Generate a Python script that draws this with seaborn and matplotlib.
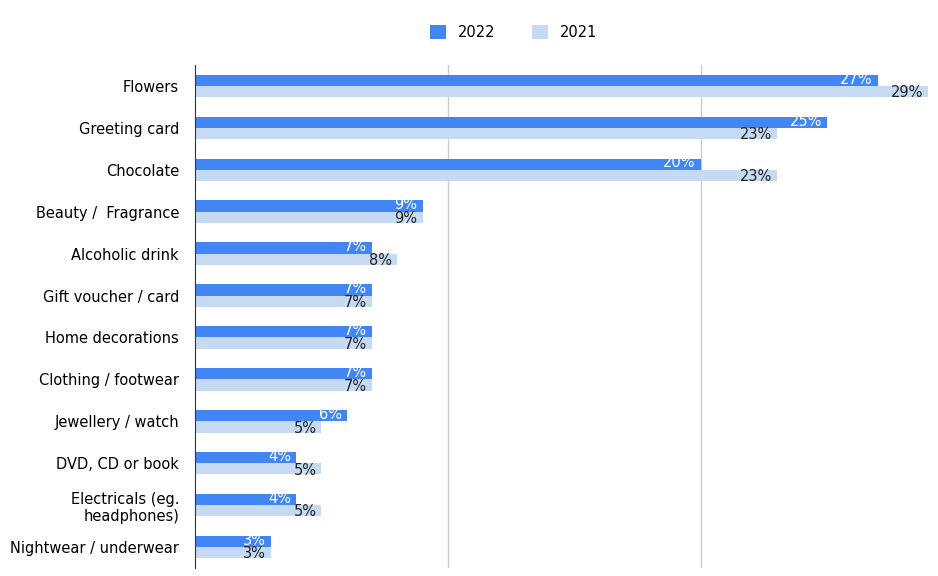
import matplotlib
matplotlib.use("Agg")
import matplotlib.pyplot as plt
import seaborn as sns
import pandas as pd

categories = ["Flowers", "Greeting card", "Chocolate", "Beauty /  Fragrance", "Alcoholic drink",
              "Gift voucher / card", "Home decorations", "Clothing / footwear", "Jewellery / watch",
              "DVD, CD or book", "Electricals (eg.\nheadphones)", "Nightwear / underwear"]
v2022 = [27, 25, 20, 9, 7, 7, 7, 7, 6, 4, 4, 3]
v2021 = [29, 23, 23, 9, 8, 7, 7, 7, 5, 5, 5, 3]
series = ["2022", "2021"]
colors = ["#4285f4", "#c6daf3"]

df = pd.DataFrame({"cat": categories * 2, "val": v2022 + v2021,
                   "year": ["2022"] * len(categories) + ["2021"] * len(categories)})

fig = plt.figure(figsize=(9.38, 5.76), dpi=100)
ax = fig.add_axes([0.2079, 0.014, 0.7900, 0.873])
sns.barplot(data=df, y="cat", x="val", hue="year", hue_order=series, palette=colors,
            orient="h", width=0.54, ax=ax, saturation=1, legend=True)
ax.set_xlim(0, 29.3)
ax.set_xticks([10, 20])
ax.grid(axis="x", color="#cccccc", lw=1)
ax.set_axisbelow(True)
ax.tick_params(axis="x", bottom=False, labelbottom=False)
ax.tick_params(axis="y", left=False, labelsize=10.5, pad=8)
ax.set_xlabel(""); ax.set_ylabel("")
for s in ["top", "right", "bottom"]:
    ax.spines[s].set_visible(False)
ax.spines["left"].set_color("#333333")

for cont, col, dy in zip(ax.containers, ["white", "#222222"], [-0.03, 0.03]):
    for bar in cont:
        w = bar.get_width()
        ax.text(w - 0.2, bar.get_y() + bar.get_height() / 2 + dy, f"{int(w)}%",
                ha="right", va="center", color=col, fontsize=10.5)

h, l = ax.get_legend_handles_labels()
ax.legend(h, l, loc="center", bbox_to_anchor=(0.43, 1.064), ncol=2, frameon=False,
          fontsize=10.5, handlelength=1.1, handleheight=1.1, columnspacing=2.5)
fig.savefig("out.png", dpi=100)
